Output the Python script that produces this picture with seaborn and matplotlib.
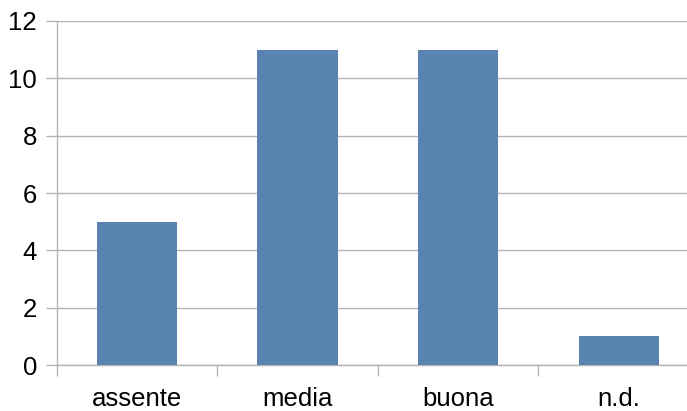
import pandas as pd
import matplotlib
matplotlib.use("Agg")
import matplotlib.pyplot as plt
import seaborn as sns

categories = ['assente', 'media', 'buona', 'n.d.']
counts = [5, 11, 11, 1]
yticks = [0, 2, 4, 6, 8, 10, 12]

sns.set_style("white")
plt.rcParams['font.family'] = ['Liberation Sans', 'DejaVu Sans']

df = pd.DataFrame({'cat': categories, 'n': counts})

fig = plt.figure(figsize=(6.87, 4.11), dpi=100)
ax = fig.add_axes([56.5 / 687, 46 / 411, (699 - 56.5) / 687, 344 / 411])

sns.barplot(data=df, x='cat', y='n', order=categories, color='#5983b0',
            saturation=1, width=0.5, linewidth=0, ax=ax, zorder=3)

grid = '#b3b3b3'
ax.set_ylim(0, 12)
ax.set_xlim(-0.5, 3.5)
ax.set_yticks(yticks)
ax.yaxis.grid(True, color=grid, linewidth=1)
ax.set_axisbelow(True)
# category separators as major ticks, labels centred on minor ticks
ax.set_xticks([-0.5, 0.5, 1.5, 2.5, 3.5], minor=False)
ax.set_xticklabels([])
ax.set_xticks(range(len(categories)), minor=True)
ax.set_xticklabels(categories, minor=True)
ax.tick_params(axis='x', which='major', bottom=True, length=8, color=grid,
               width=1, direction='out')
ax.tick_params(axis='x', which='minor', bottom=True, length=0, labelsize=18.5,
               labelcolor='black', pad=16)
ax.tick_params(axis='y', left=True, length=8, color=grid, width=1,
               labelsize=18.5, labelcolor='black', pad=6)
ax.set_xlabel('')
ax.set_ylabel('')
for s in ['top', 'right']:
    ax.spines[s].set_visible(False)
for s in ['left', 'bottom']:
    ax.spines[s].set_color(grid)
    ax.spines[s].set_linewidth(1)

fig.savefig('out.png', dpi=100)
